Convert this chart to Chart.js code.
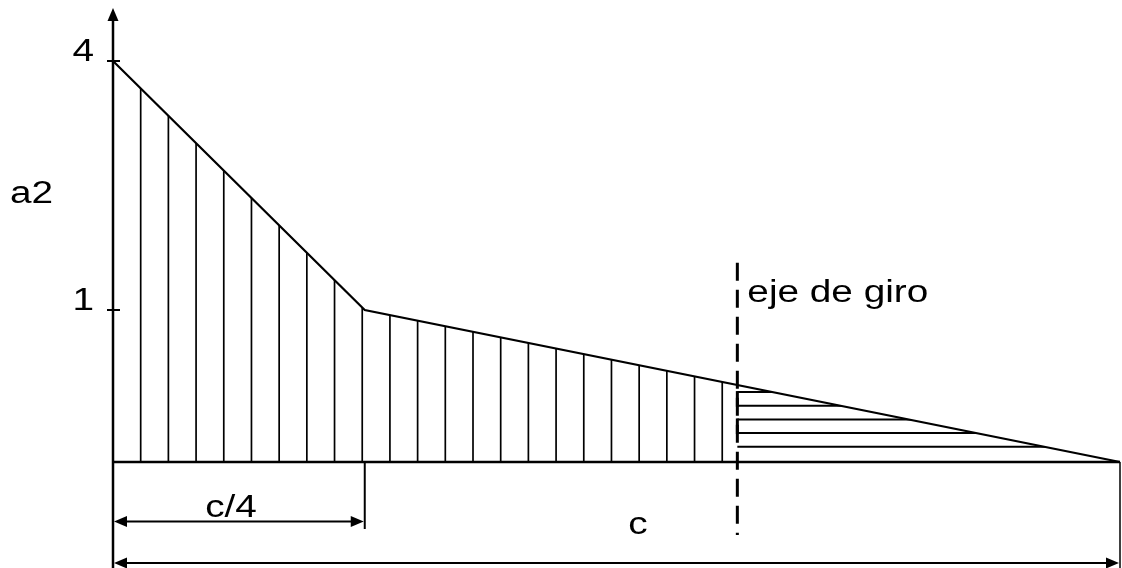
<!DOCTYPE html>
<html>
<head>
<meta charset="utf-8">
<script src="https://cdn.jsdelivr.net/npm/chart.js@4.4.1/dist/chart.umd.min.js"></script>
<style>
  html, body { margin: 0; padding: 0; background: #fff; }
  canvas { display: block; }
</style>
</head>
<body>
<canvas id="diagram" width="1122" height="568"></canvas>
<script>
// Load profile a2 along the chord c (x in fractions of c)
const profileX = [0, 0.25, 1];
const profileA2 = [4, 1, 0];

// Labelled values on the a2 axis
const yTickValues = [4, 1];
const yTickLabels = ['4', '1'];

// Rotation axis and hatching
const pivotX = 0.62;
const pivotLineSpan = [1.57, -0.48];          // a2 range covered by the dashed axis
const hatchStepX = 0.0275;                    // spacing of vertical hatching (fraction of c)
const rotationHatchLevels = [0.46, 0.37, 0.28, 0.19, 0.10];

// Dimension marks
const quarterX = 0.25;
const chordX = 1;

// Texts
const axisTitle = 'a2';
const pivotLabel = 'eje de giro';
const quarterLabel = 'c/4';
const chordLabel = 'c';

// a2 is drawn on a broken scale: 0–1 is stretched, 1–4 is compressed
const yBreaks = [[0, 0], [1, 0.379], [4, 1]];
function a2ToDecimal(v) {
  for (let i = 1; i < yBreaks.length; i++) {
    const [v0, d0] = yBreaks[i - 1], [v1, d1] = yBreaks[i];
    if (v <= v1 || i === yBreaks.length - 1) return d0 + (v - v0) * (d1 - d0) / (v1 - v0);
  }
}
function decimalToA2(d) {
  for (let i = 1; i < yBreaks.length; i++) {
    const [v0, d0] = yBreaks[i - 1], [v1, d1] = yBreaks[i];
    if (d <= d1 || i === yBreaks.length - 1) return v0 + (d - d0) * (v1 - v0) / (d1 - d0);
  }
}
class BrokenScale extends Chart.LinearScale {
  getPixelForValue(value) { return this.getPixelForDecimal(a2ToDecimal(value)); }
  getValueForPixel(pixel) { return decimalToA2(this.getDecimalForPixel(pixel)); }
}
BrokenScale.id = 'broken';
BrokenScale.defaults = {};
Chart.register(BrokenScale);

const FONT = '31px "Liberation Sans", Arial, sans-serif';
const STRETCH = 1.25;

function stretchedText(ctx, str, x, y, align) {
  ctx.save();
  ctx.translate(x, y);
  ctx.scale(STRETCH, 1);
  ctx.font = FONT;
  ctx.fillStyle = '#000';
  ctx.textAlign = align;
  ctx.textBaseline = 'alphabetic';
  ctx.fillText(str, 0, 0);
  ctx.restore();
}

function line(ctx, x1, y1, x2, y2, w) {
  ctx.beginPath();
  ctx.lineWidth = w;
  ctx.moveTo(x1, y1);
  ctx.lineTo(x2, y2);
  ctx.stroke();
}

// filled arrow head pointing along (dx, dy)
function arrowHead(ctx, tx, ty, dx, dy) {
  const len = 13, half = 5.5;
  const bx = tx - dx * len, by = ty - dy * len;
  ctx.beginPath();
  ctx.moveTo(tx, ty);
  ctx.lineTo(bx - dy * half, by + dx * half);
  ctx.lineTo(bx + dy * half, by - dx * half);
  ctx.closePath();
  ctx.fill();
}

function profilePath(ctx, pts, base) {
  ctx.beginPath();
  ctx.moveTo(pts[0].x, base);
  pts.forEach(p => ctx.lineTo(p.x, p.y));
  ctx.lineTo(pts[pts.length - 1].x, base);
  ctx.closePath();
}

const diagramPlugin = {
  id: 'diagram',
  beforeDatasetsDraw(chart) {
    const { ctx, scales: { x, y }, chartArea } = chart;
    const pts = chart.getDatasetMeta(0).data;
    const base = y.getPixelForValue(0);
    const px = x.getPixelForValue(pivotX);

    ctx.save();
    ctx.strokeStyle = '#000';
    profilePath(ctx, pts, base);
    ctx.clip();

    // vertical hatching up to the rotation axis
    for (let k = 1; k * hatchStepX < pivotX; k++) {
      const hx = x.getPixelForValue(k * hatchStepX);
      line(ctx, hx, base, hx, chartArea.top - 5, 1.7);
    }
    // horizontal hatching beyond the rotation axis
    rotationHatchLevels.forEach(v => {
      const hy = y.getPixelForValue(v);
      line(ctx, px, hy, chartArea.right + 5, hy, 2);
    });
    ctx.restore();

    // joints of the horizontal hatching on the axis
    ctx.save();
    ctx.strokeStyle = '#000';
    for (let i = 0; i + 1 < rotationHatchLevels.length; i += 2) {
      line(ctx, px, y.getPixelForValue(rotationHatchLevels[i]) - 1,
               px, y.getPixelForValue(rotationHatchLevels[i + 1]) + 1, 3);
    }
    ctx.restore();
  },
  afterDatasetsDraw(chart) {
    const { ctx, scales: { x, y } } = chart;
    const H = chart.height;
    const x0 = x.getPixelForValue(0);
    const base = y.getPixelForValue(0);
    const px = x.getPixelForValue(pivotX);
    const qx = x.getPixelForValue(quarterX);
    const cx = x.getPixelForValue(chordX);

    ctx.save();
    ctx.strokeStyle = '#000';
    ctx.fillStyle = '#000';
    ctx.lineCap = 'butt';

    // a2 axis with arrow
    line(ctx, x0, 20, x0, H, 2.5);
    arrowHead(ctx, x0, 8, 0, -1);

    // ticks and their labels
    yTickValues.forEach((v, i) => {
      const ty = y.getPixelForValue(v);
      line(ctx, x0 - 6, ty, x0 + 7, ty, 2);
      stretchedText(ctx, yTickLabels[i], x0 - 19, ty, 'right');
    });
    stretchedText(ctx, axisTitle, 10, 203, 'left');

    // rotation axis
    ctx.save();
    ctx.setLineDash([18, 9]);
    line(ctx, px, y.getPixelForValue(pivotLineSpan[0]), px, y.getPixelForValue(pivotLineSpan[1]), 3);
    ctx.restore();
    stretchedText(ctx, pivotLabel, px + 10, 302, 'left');

    // dimension c/4
    line(ctx, qx, base, qx, 529, 2);
    const dq = 521.5;
    line(ctx, x0 + 6, dq, qx - 6, dq, 2);
    arrowHead(ctx, x0 + 1, dq, -1, 0);
    arrowHead(ctx, qx - 1, dq, 1, 0);
    stretchedText(ctx, quarterLabel, 231, 517, 'center');

    // dimension c
    line(ctx, cx, base, cx, H, 1.5);
    const dc = 563;
    line(ctx, x0 + 6, dc, cx - 6, dc, 2);
    arrowHead(ctx, x0 + 1, dc, -1, 0);
    arrowHead(ctx, cx - 1, dc, 1, 0);
    stretchedText(ctx, chordLabel, 638, 534, 'center');

    ctx.restore();
  }
};

new Chart(document.getElementById('diagram').getContext('2d'), {
  type: 'line',
  data: {
    datasets: [
      {
        data: profileX.map((v, i) => ({ x: v, y: profileA2[i] })),
        borderColor: '#000',
        borderWidth: 2.2,
        pointRadius: 0,
        tension: 0,
        fill: false,
        clip: false
      },
      {
        data: [{ x: profileX[0], y: 0 }, { x: chordX, y: 0 }],
        borderColor: '#000',
        borderWidth: 2.5,
        pointRadius: 0,
        fill: false,
        clip: false
      }
    ]
  },
  options: {
    responsive: false,
    animation: false,
    events: [],
    layout: { padding: { left: 113, right: 2, top: 61, bottom: 106 } },
    scales: {
      x: { type: 'linear', min: 0, max: 1, display: false },
      y: { type: 'broken', min: 0, max: 4, display: false }
    },
    plugins: { legend: { display: false }, tooltip: { enabled: false } }
  },
  plugins: [diagramPlugin]
});
</script>
</body>
</html>
